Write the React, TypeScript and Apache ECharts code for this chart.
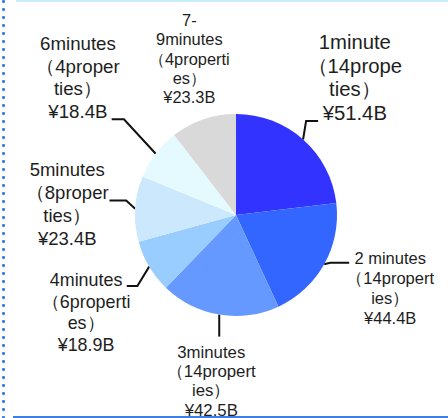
import React, { useEffect, useRef } from "react";
import * as echarts from "echarts";

// ---- data ----
const categories = ["1minute", "2 minutes", "3minutes", "4minutes", "5minutes", "6minutes", "7-9minutes"];
const values = [51.4, 44.4, 42.5, 18.9, 23.4, 18.4, 23.3];
const wrappedLabels = [
  "1minute\n（14prope\nties）",
  "2 minutes\n（14propert\nies）",
  "3minutes\n（14propert\nies）",
  "4minutes\n（6properti\nes）",
  "5minutes\n（8proper\nties）",
  "6minutes\n（4proper\nties）",
  "7-\n9minutes\n（4properti\nes）",
];

// ---- styles / layout ----
const colors = ["#3333ff", "#3366ff", "#6699ff", "#99ccff", "#cce8fd", "#e5faff", "#d9d9d9"];
const CENTER: [number, number] = [236, 215];
const RADIUS = 101;
const FONT = "'Liberation Sans', Arial, sans-serif";
type LL = { fontSize: number; lineHeight: number; elbow: number[] | null; end: number[] | null; box: number[] };
const labelLayouts: LL[] = [
  { fontSize: 20.3, lineHeight: 23.7, elbow: [3, -18.5], end: [12, 0], box: [36.7, -90.8] },
  { fontSize: 16.5, lineHeight: 20.2, elbow: [6, -1.5], end: [19, 0], box: [41, -15.2] },
  { fontSize: 16.8, lineHeight: 19.3, elbow: [0, 11], end: [0, 11], box: [-8, 6] },
  { fontSize: 17.9, lineHeight: 21.7, elbow: [-11.8, 19.4], end: [-10.6, 0], box: [-40.7, -16.8] },
  { fontSize: 18.5, lineHeight: 22.8, elbow: [-9, -8.3], end: [-16.7, 0], box: [-42.3, -41.9] },
  { fontSize: 18.7, lineHeight: 22.8, elbow: [-31.8, -34.4], end: [-12.3, 0], box: [-33.7, -87.4] },
  { fontSize: 16.4, lineHeight: 19.2, elbow: null, end: null, box: [-14, -108.8] },
];

function anchorOf(i: number): [number, number] {
  const total = values.reduce((a, b) => a + b, 0);
  let cum = 0;
  for (let k = 0; k < i; k++) cum += values[k];
  const theta = ((cum + values[i] / 2) / total) * Math.PI * 2;
  return [CENTER[0] + RADIUS * Math.sin(theta), CENTER[1] - RADIUS * Math.cos(theta)];
}

export default function App() {
  const ref = useRef<HTMLDivElement>(null);
  useEffect(() => {
    if (!ref.current) return;
    const chart = echarts.init(ref.current, null, { renderer: "svg" });
    const dots = Array.from({ length: 53 }, (_, k) => ({
      type: "circle",
      shape: { cx: 3.5, cy: 1.5 + 8 * k, r: 1.6 },
      style: { fill: "#3b7ded" },
      silent: true,
    }));
    chart.setOption({
      animation: false,
      backgroundColor: "#ffffff",
      graphic: [
        { type: "rect", shape: { x: 16, y: 0, width: 432, height: 2 }, style: { fill: "#c9ecfa" }, silent: true },
        { type: "rect", shape: { x: 13, y: 416, width: 435, height: 2 }, style: { fill: "#3c7fe6" }, silent: true },
        ...dots,
      ],
      series: [
        {
          type: "pie",
          center: CENTER,
          radius: RADIUS,
          startAngle: 90,
          clockwise: true,
          avoidLabelOverlap: false,
          itemStyle: { borderWidth: 0 },
          label: {
            show: true,
            position: "outside",
            color: "#1e1e1e",
            fontFamily: FONT,
            formatter: (p: any) => `${wrappedLabels[p.dataIndex]}\n¥${values[p.dataIndex].toFixed(1)}B`,
          },
          labelLine: { show: true, length: 10, length2: 10, smooth: false, lineStyle: { color: "#111", width: 2 } },
          labelLayout: (p: any) => {
            const i = p.dataIndex;
            const cfg = labelLayouts[i];
            const a = anchorOf(i);
            let end = a;
            let pts: number[][] | undefined;
            if (cfg.elbow && cfg.end) {
              const el = [a[0] + cfg.elbow[0], a[1] + cfg.elbow[1]];
              end = [el[0] + cfg.end[0], el[1] + cfg.end[1]] as [number, number];
              pts = [a, el, end];
            }
            const res: any = {
              x: end[0] + cfg.box[0],
              y: end[1] + cfg.box[1],
              align: "center",
              verticalAlign: "top",
            };
            if (pts) res.labelLinePoints = pts;
            return res;
          },
          data: categories.map((name, i) => ({
            name,
            value: values[i],
            itemStyle: { color: colors[i] },
            label: { fontSize: labelLayouts[i].fontSize, lineHeight: labelLayouts[i].lineHeight },
            labelLine: { show: !!labelLayouts[i].elbow },
          })),
        },
      ],
    });
    return () => chart.dispose();
  }, []);
  return <div ref={ref} style={{ position: "fixed", left: 0, top: 0, width: 448, height: 418 }} />;
}
